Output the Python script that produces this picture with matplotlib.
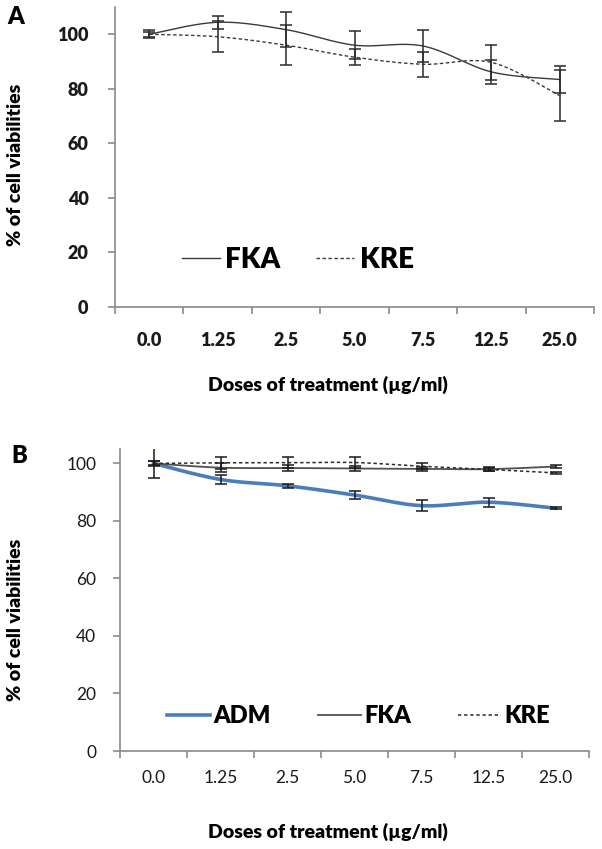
import matplotlib.pyplot as plt
import numpy as np

plt.rcParams["font.family"] = ["Lato", "DejaVu Sans"]

doses = ["0.0", "1.25", "2.5", "5.0", "7.5", "12.5", "25.0"]

# panel A
fka_a = [100, 104.4, 101.7, 96.0, 95.7, 86.2, 83.4]
fka_a_err = [1.4, 2.3, 6.3, 5.2, 5.7, 4.5, 5.1]
kre_a = [100, 99.1, 96.0, 91.6, 89.0, 89.7, 77.5]
kre_a_err = [1.0, 5.7, 7.4, 2.9, 4.5, 6.5, 9.3]

# panel B
adm_b = [100, 94.4, 92.2, 89.0, 85.3, 86.5, 84.4]
adm_b_err = [5.2, 1.5, 0.8, 1.4, 2.0, 1.6, 0.4]
fka_b = [100, 98.5, 98.4, 98.2, 98.1, 98.0, 98.9]
fka_b_err = [1.0, 1.6, 1.0, 1.0, 0.8, 0.6, 0.5]
kre_b = [100, 100.2, 100.2, 100.3, 99.0, 97.9, 96.7]
kre_b_err = [0.7, 2.0, 1.9, 2.0, 1.0, 0.5, 0.4]

W, H = 602, 849
AXIS_GRAY = "#8a8a8a"


def smooth(x, y, n=24):
    """Catmull-Rom curve through the points, like Excel's smoothed line."""
    x = np.asarray(x, float)
    y = np.asarray(y, float)
    px = np.concatenate([[x[0]], x, [x[-1]]])
    py = np.concatenate([[y[0]], y, [y[-1]]])
    xs, ys = [], []
    t = np.linspace(0, 1, n)
    for i in range(1, len(px) - 2):
        p0, p1, p2, p3 = [np.array([px[j], py[j]]) for j in (i - 1, i, i + 1, i + 2)]
        c1 = p1 + (p2 - p0) / 6
        c2 = p2 - (p3 - p1) / 6
        for tt in t:
            pt = ((1 - tt) ** 3) * p1 + 3 * ((1 - tt) ** 2) * tt * c1 + 3 * (1 - tt) * tt ** 2 * c2 + tt ** 3 * p2
            xs.append(pt[0])
            ys.append(pt[1])
    return xs, ys


def make_axes(fig, left, top, right, bottom):
    return fig.add_axes([left / W, 1 - bottom / H, (right - left) / W, (bottom - top) / H])


def style_axes(ax, ymax, bold_ticks, pad):
    ax.set_xlim(0, len(doses))
    ax.set_ylim(0, ymax)
    for s in ("top", "right"):
        ax.spines[s].set_visible(False)
    for s in ("left", "bottom"):
        ax.spines[s].set_color(AXIS_GRAY)
        ax.spines[s].set_linewidth(1.2)
    ax.set_yticks(range(0, 101, 20))
    ax.set_xticks(range(len(doses) + 1))
    ax.set_xticklabels([])
    ax.set_xticks(np.arange(len(doses)) + 0.5, minor=True)
    ax.set_xticklabels(doses, minor=True)
    ax.tick_params(axis="both", which="major", color=AXIS_GRAY, length=5, width=1.2)
    ax.tick_params(axis="x", which="minor", length=0, pad=pad)
    weight = "heavy" if bold_ticks else "normal"
    for lab in ax.get_yticklabels() + ax.get_xticklabels(minor=True):
        lab.set_fontsize(13 if bold_ticks else 12.5)
        lab.set_fontweight(weight)
        lab.set_color("#1a1a1a")
    ax.tick_params(axis="y", pad=14 if bold_ticks else 12)


def draw_series(ax, vals, errs, color, lw, ls, ecolor):
    x = np.arange(len(vals)) + 0.5
    sx, sy = smooth(x, vals)
    line, = ax.plot(sx, sy, color=color, lw=lw, ls=ls, zorder=3)
    ax.errorbar(x, vals, yerr=errs, fmt="none", ecolor=ecolor, elinewidth=1.1,
                capsize=4.5, capthick=1.1, zorder=4)
    return line


fig = plt.figure(figsize=(W / 100, H / 100), dpi=100)

# ---- panel A ----
ax_a = make_axes(fig, 115, 7, 594, 307)
style_axes(ax_a, 110, True, 18)
la1 = draw_series(ax_a, fka_a, fka_a_err, "#3a3a3a", 1.0, "-", "#2a2a2a")
la2 = draw_series(ax_a, kre_a, kre_a_err, "#3a3a3a", 1.0, (0, (2.5, 1.8)), "#2a2a2a")
ax_a.legend([la1, la2], ["FKA", "KRE"], loc="center left", bbox_to_anchor=(0.14, 0.157),
            ncol=2, frameon=False, borderpad=0, borderaxespad=0, handlelength=1.35,
            handletextpad=0.2, columnspacing=1.3, prop={"size": 20, "weight": "heavy"})

fig.text(7 / W, 1 - 17 / H, "A", fontsize=17, fontweight="heavy", ha="left", va="center")
fig.text(16 / W, 1 - 165 / H, "% of cell viabilities", rotation=90, fontsize=14,
         fontweight="heavy", ha="center", va="center")
fig.text(328 / W, 1 - 385 / H, "Doses of treatment (\u00b5g/ml)", fontsize=14,
         fontweight="heavy", ha="center", va="center")

# ---- panel B ----
ax_b = make_axes(fig, 120, 449, 589, 751)
style_axes(ax_b, 105, False, 14)
lb1 = draw_series(ax_b, adm_b, adm_b_err, "#4a7ebb", 2.6, "-", "#1a1a1a")
lb2 = draw_series(ax_b, fka_b, fka_b_err, "#505050", 1.3, "-", "#1a1a1a")
lb3 = draw_series(ax_b, kre_b, kre_b_err, "#2a2a2a", 1.1, (0, (2.2, 1.8)), "#1a1a1a")
ax_b.legend([lb1, lb2, lb3], ["ADM", "FKA", "KRE"], loc="center left",
            bbox_to_anchor=(0.101, 0.116), ncol=3, frameon=False, borderpad=0,
            borderaxespad=0, handlelength=1.8, handletextpad=0.15, columnspacing=2.0,
            prop={"size": 17, "weight": "heavy"})

fig.text(11 / W, 1 - 456 / H, "B", fontsize=17, fontweight="heavy", ha="left", va="center")
fig.text(16 / W, 1 - 620 / H, "% of cell viabilities", rotation=90, fontsize=14,
         fontweight="heavy", ha="center", va="center")
fig.text(328 / W, 1 - 832 / H, "Doses of treatment (\u00b5g/ml)", fontsize=14,
         fontweight="heavy", ha="center", va="center")

fig.savefig("out.png", dpi=100)
